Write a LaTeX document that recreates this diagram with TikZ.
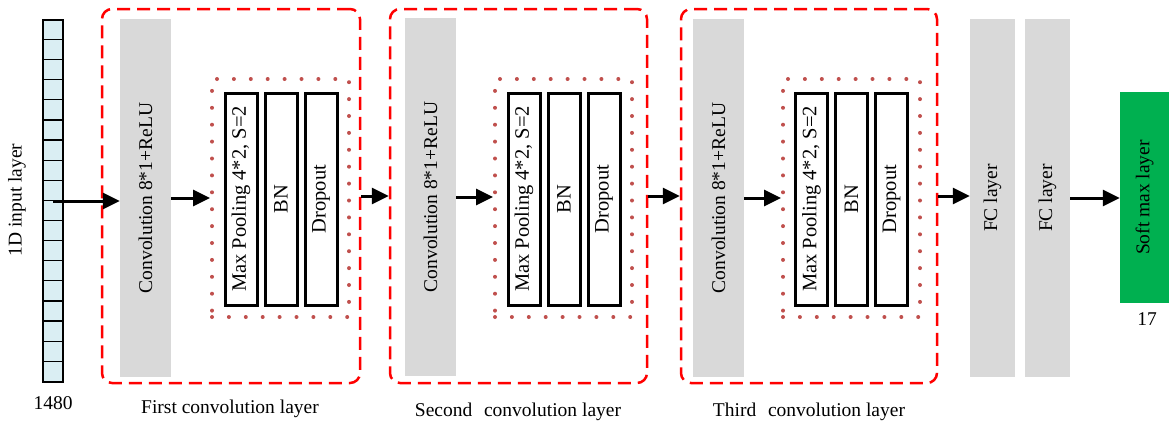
\documentclass[tikz,border=0pt]{standalone}
\usepackage{fontspec}
\setmainfont{Liberation Serif}
\usetikzlibrary{arrows.meta}
\definecolor{cellblue}{HTML}{DAEEF3}
\definecolor{convgray}{HTML}{D9D9D9}
\definecolor{smgreen}{HTML}{00B050}
\definecolor{dotred}{HTML}{C0504D}
\definecolor{dashred}{HTML}{FF0000}
\begin{document}
\begin{tikzpicture}[x=1pt,y=-1pt,
  txt/.style={font=\fontsize{19.5}{23}\selectfont, inner sep=0pt},
  graybox/.style={txt, fill=convgray, minimum width=51pt, minimum height=358pt},
  fcbox/.style={txt, fill=convgray, minimum width=45pt, minimum height=358pt},
  innerbox/.style={txt, font=\fontsize{20.5}{24}\selectfont, draw=black, line width=3pt, fill=white, minimum width=32pt, minimum height=212pt},
  dotbox/.style={draw=dotred, line width=4pt, dash pattern=on 0pt off 16.9pt, line cap=round, minimum width=137pt, minimum height=238pt, inner sep=0pt},
  dashbox/.style={draw=dashred, line width=2.5pt, dash pattern=on 13pt off 7pt, rounded corners=10pt, minimum height=374pt, inner sep=0pt},
  arr/.style={-{Triangle[length=17pt,width=16pt]}, line width=3pt, black},
  lbl/.style={txt}
]
\useasboundingbox (0,0) rectangle (1169,421);

% input layer
\node[draw=black, line width=1.2pt, fill=cellblue, minimum width=20pt, minimum height=362pt, inner sep=0pt] (inp) at (53,201) {};
\foreach \i in {1,...,17} {
  \draw[line width=1.2pt] ([yshift=-\i*20.11pt]inp.north west) -- ([yshift=-\i*20.11pt]inp.north east);
}
\node[lbl] (inlbl) at (17,200) {\rotatebox{90}{1D input layer}};
\node[lbl] (n1480) at (53,403) {1480};

% dashed blocks
\node[dashbox, minimum width=258pt] (b1) at (231,196) {};
\node[dashbox, minimum width=257pt] (b2) at (518.5,196) {};
\node[dashbox, minimum width=256pt] (b3) at (809,196) {};

% conv boxes
\node[graybox] (c1) at (145.5,198) {\rotatebox{90}{Convolution 8*1+ReLU}};
\node[graybox] (c2) at (430.5,197) {\rotatebox{90}{Convolution 8*1+ReLU}};
\node[graybox] (c3) at (718.5,198) {\rotatebox{90}{Convolution 8*1+ReLU}};

% dotted boxes
\node[dotbox] (d1) at (280.5,198) {};
\node[dotbox] (d2) at (563.5,198) {};
\node[dotbox] (d3) at (851.5,198) {};

% inner boxes
\node[innerbox] (mp1) at (241,199) {\rotatebox{90}{Max Pooling 4*2, S=2}};
\node[innerbox] (bn1) at (281,199) {\rotatebox{90}{BN}};
\node[innerbox] (do1) at (321,199) {\rotatebox{90}{Dropout}};
\node[innerbox] (mp2) at (524,199) {\rotatebox{90}{Max Pooling 4*2, S=2}};
\node[innerbox] (bn2) at (564,199) {\rotatebox{90}{BN}};
\node[innerbox] (do2) at (604,199) {\rotatebox{90}{Dropout}};
\node[innerbox] (mp3) at (811.5,199) {\rotatebox{90}{Max Pooling 4*2, S=2}};
\node[innerbox] (bn3) at (851.5,199) {\rotatebox{90}{BN}};
\node[innerbox] (do3) at (891.5,199) {\rotatebox{90}{Dropout}};

% FC and softmax
\node[fcbox] (fc1) at (992.5,198) {\rotatebox{90}{FC layer}};
\node[fcbox] (fc2) at (1047.5,198) {\rotatebox{90}{FC layer}};
\node[txt, fill=smgreen, minimum width=49pt, minimum height=211pt] (sm) at (1144.5,197.5) {\rotatebox{90}{Soft max layer}};
\node[lbl] (n17) at (1147,319) {17};

% block labels
\node[lbl] (l1) at (230,409) {First convolution layer};
\node[lbl] (l2) at (518,412) {Second\hspace{0.6em}convolution layer};
\node[lbl] (l3) at (809,412) {Third\hspace{0.6em}convolution layer};

% arrows
\coordinate (inpc) at (inp.center);
\draw[arr] (inpc) -- (inpc -| c1.west);
\draw[arr] (c1.east) -- (c1.east -| d1.west);
\draw[arr] (b1.east) -- (b2.west);
\draw[arr] (c2.east) -- (c2.east -| d2.west);
\draw[arr] (b2.east) -- (b3.west);
\draw[arr] (c3.east) -- (c3.east -| d3.west);
\draw[arr] (b3.east) -- (b3.east -| fc1.west);
\draw[arr] (fc2.east) -- (fc2.east -| sm.west);
\end{tikzpicture}
\end{document}
